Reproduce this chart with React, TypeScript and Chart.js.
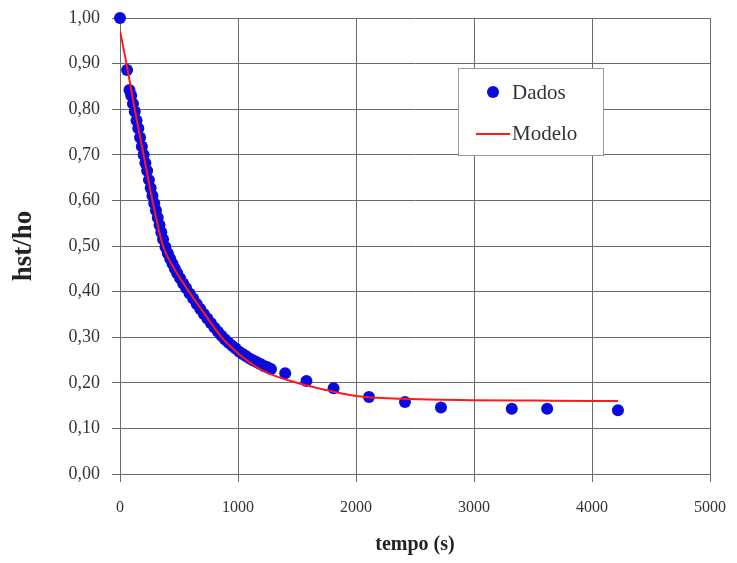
import React, { useEffect, useRef } from "react";
import { Chart, registerables } from "chart.js";

Chart.register(...registerables);

// Measured data (tempo in s, hst/ho)
const DATA_T = [
  0, 60, 80, 95, 110, 125, 140, 155, 170, 185, 200, 215, 230, 245, 260, 275, 290, 305, 320, 335,
  350, 365, 385, 405, 425, 445, 465, 485, 510, 535, 560, 590, 620, 650, 680, 710, 740, 770, 800,
  830, 860, 890, 920, 950, 980, 1010, 1040, 1070, 1100, 1130, 1160, 1190, 1220, 1250, 1280, 1400,
  1580, 1810, 2110, 2415, 2720, 3320, 3620, 4220,
];
const DATA_H = [
  1.0, 0.886, 0.842, 0.83, 0.812, 0.795, 0.775, 0.758, 0.738, 0.718, 0.7, 0.682, 0.665, 0.645,
  0.627, 0.61, 0.594, 0.578, 0.562, 0.546, 0.53, 0.515, 0.498, 0.484, 0.472, 0.461, 0.45, 0.44,
  0.429, 0.418, 0.408, 0.396, 0.385, 0.373, 0.362, 0.351, 0.341, 0.331, 0.321, 0.312, 0.303, 0.295,
  0.288, 0.281, 0.275, 0.268, 0.263, 0.258, 0.253, 0.249, 0.245, 0.241, 0.237, 0.234, 0.23, 0.221,
  0.204, 0.188, 0.169, 0.158, 0.146, 0.143, 0.143, 0.14,
];

// Model curve
const MODEL_T = [0, 55, 125, 200, 275, 365, 460, 585, 720, 860, 1000, 1200, 1500, 1750, 2000, 2400, 3000, 3500, 4000, 4220];
const MODEL_H = [0.972, 0.9, 0.8, 0.7, 0.6, 0.5, 0.45, 0.4, 0.35, 0.3, 0.265, 0.228, 0.2, 0.184, 0.171, 0.165, 0.162, 0.161, 0.16, 0.16];

const X_TICKS = [0, 1000, 2000, 3000, 4000, 5000];
const Y_TICKS = [0, 0.1, 0.2, 0.3, 0.4, 0.5, 0.6, 0.7, 0.8, 0.9, 1.0];

const SERIES_LABELS = ["Dados", "Modelo"];
const X_TITLE = "tempo (s)";
const Y_TITLE = "hst/ho";

const BLUE = "#0a0adc";
const RED = "#ff1a1a";
const GRID = "#6a6a6a";
const SERIF = "'Liberation Serif', 'Times New Roman', serif";

const legendPlugin = {
  id: "boxLegend",
  afterDraw(chart: any) {
    const ctx = chart.ctx;
    ctx.save();
    const x = 458, y = 68, w = 145, h = 87;
    ctx.fillStyle = "#ffffff";
    ctx.fillRect(x, y, w, h);
    ctx.strokeStyle = "#9a9a9a";
    ctx.lineWidth = 1;
    ctx.strokeRect(x + 0.5, y + 0.5, w, h);
    // Dados
    ctx.fillStyle = BLUE;
    ctx.beginPath();
    ctx.arc(493, 92, 6, 0, Math.PI * 2);
    ctx.fill();
    // Modelo
    ctx.strokeStyle = RED;
    ctx.lineWidth = 2;
    ctx.beginPath();
    ctx.moveTo(476, 134);
    ctx.lineTo(510, 134);
    ctx.stroke();
    ctx.fillStyle = "#333";
    ctx.font = `21px ${SERIF}`;
    ctx.textAlign = "left";
    ctx.textBaseline = "middle";
    ctx.fillText(SERIES_LABELS[0], 512, 93);
    ctx.fillText(SERIES_LABELS[1], 512, 134);
    ctx.restore();
  },
};

export default function App() {
  const ref = useRef<HTMLCanvasElement | null>(null);

  useEffect(() => {
    document.body.style.margin = "0";
    const canvas = ref.current;
    if (!canvas) return;
    const chart = new Chart(canvas, {
      type: "scatter",
      data: {
        datasets: [
          {
            type: "line",
            label: SERIES_LABELS[1],
            data: MODEL_T.map((t, i) => ({ x: t, y: MODEL_H[i] })),
            borderColor: RED,
            backgroundColor: RED,
            borderWidth: 2,
            pointRadius: 0,
            fill: false,
            cubicInterpolationMode: "monotone",
            showLine: true,
          } as any,
          {
            type: "scatter",
            label: SERIES_LABELS[0],
            data: DATA_T.map((t, i) => ({ x: t, y: DATA_H[i] })),
            backgroundColor: BLUE,
            borderColor: BLUE,
            pointRadius: 6,
            pointBorderWidth: 0,
            clip: false,
          } as any,
        ],
      },
      options: {
        responsive: false,
        animation: false,
        devicePixelRatio: 1,
        layout: { padding: { left: 0, top: 18, right: 27, bottom: 6 } },
        plugins: {
          legend: { display: false },
          tooltip: { enabled: false },
        },
        scales: {
          x: {
            type: "linear",
            min: 0,
            max: 5000,
            afterBuildTicks: (axis: any) => {
              axis.ticks = X_TICKS.map((v) => ({ value: v }));
            },
            afterFit: (axis: any) => {
              axis.height = 83;
              axis.paddingRight = 0;
              axis.paddingLeft = 0;
            },
            ticks: {
              color: "#333",
              font: { family: SERIF, size: 16 },
              padding: 16,
              maxRotation: 0,
              callback: (v: any) => String(v),
            },
            grid: { color: GRID, lineWidth: 1, tickLength: 8, tickColor: GRID },
            border: { color: GRID, width: 1 },
            title: {
              display: true,
              text: X_TITLE,
              color: "#222",
              font: { family: SERIF, size: 20, weight: "bold" },
              padding: { top: 0, bottom: 0 },
            },
          },
          y: {
            type: "linear",
            min: 0,
            max: 1,
            afterBuildTicks: (axis: any) => {
              axis.ticks = Y_TICKS.map((v) => ({ value: v }));
            },
            afterFit: (axis: any) => {
              axis.width = 120;
              axis.paddingTop = 0;
              axis.paddingBottom = 0;
            },
            ticks: {
              color: "#333",
              font: { family: SERIF, size: 18 },
              padding: 12,
              callback: (v: any) => Number(v).toFixed(2).replace(".", ","),
            },
            grid: { color: GRID, lineWidth: 1, tickLength: 8, tickColor: GRID },
            border: { color: GRID, width: 1 },
            title: {
              display: true,
              text: Y_TITLE,
              color: "#222",
              font: { family: SERIF, size: 27, weight: "bold" },
              padding: { top: 8, bottom: 0 },
            },
          },
        },
      } as any,
      plugins: [legendPlugin],
    });
    return () => chart.destroy();
  }, []);

  return (
    <div style={{ width: 737, height: 563, background: "#fff" }}>
      <canvas ref={ref} width={737} height={563} />
    </div>
  );
}
